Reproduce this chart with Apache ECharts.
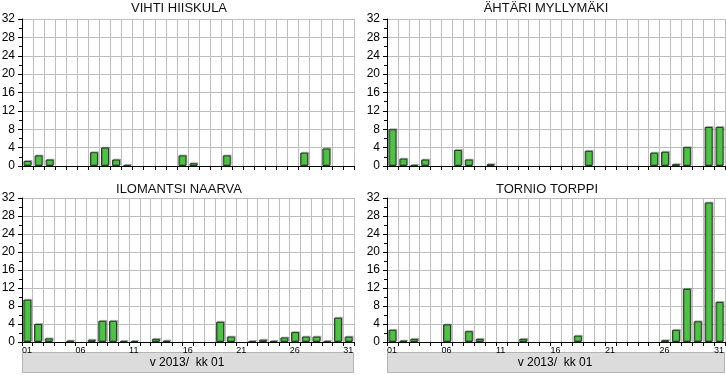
<!DOCTYPE html>
<html><head><meta charset="utf-8">
<script src="https://cdn.jsdelivr.net/npm/echarts@6/dist/echarts.min.js"></script>
<style>html,body{margin:0;padding:0;background:#fff}#c{width:726px;height:375px}</style>
</head><body><div id="c"></div><script>
// ---- data ----
const stationNames = ['VIHTI HIISKULA', 'ÄHTÄRI MYLLYMÄKI', 'ILOMANTSI NAARVA', 'TORNIO TORPPI'];
const vihtiValues = [1.1,2.3,1.4,0,0,0,3.0,4.0,1.4,0.2,0,0,0,0,2.3,0.6,0,0,2.3,0,0,0,0,0,0,2.9,0,3.8,0,0];
const ahtariValues = [8.0,1.6,0.2,1.4,0,0,3.5,1.4,0,0.4,0,0,0,0,0,0,0,0,3.3,0,0,0,0,0,2.9,3.1,0.4,4.1,0,8.5,8.5];
const ilomantsiValues = [9.4,4.0,0.8,0,0.3,0,0.5,4.7,4.7,0.2,0.2,0,0.7,0.3,0,0,0,0,4.5,1.2,0,0.2,0.5,0.2,1.0,2.2,1.2,1.2,0.2,5.4,1.2];
const tornioValues = [2.7,0.3,0.7,0,0,3.9,0,2.4,0.7,0,0,0,0.7,0,0,0,0,1.4,0,0,0,0,0,0,0,0.4,2.7,11.8,4.6,31.0,8.9];
const yMin = 0, yMax = 32, yInterval = 4;
const xLabelStep = 5;
const periodText = 'v 2013/  kk 01';

// ---- build ----
const pad = n => (n < 10 ? '0' : '') + n;
const seriesValues = [vihtiValues, ahtariValues, ilomantsiValues, tornioValues];
const grids = [
  {left: 22, top: 19, width: 332, height: 147},
  {left: 387, top: 19, width: 338, height: 147},
  {left: 22, top: 198, width: 332, height: 144},
  {left: 387, top: 198, width: 338, height: 144}
];
const FONT = '"Liberation Sans", Arial, sans-serif';
const gridColor = '#bdbdbd';

const xAxes = [], yAxes = [], series = [], graphics = [];
seriesValues.forEach((vals, i) => {
  const days = vals.map((_, k) => pad(k + 1));
  xAxes.push({
    type: 'category', gridIndex: i, data: days, boundaryGap: true,
    axisLine: {show: true, lineStyle: {color: '#000', width: 1}},
    axisTick: {show: true, interval: 0, length: 4, lineStyle: {color: '#000'}},
    axisLabel: {show: false},
    splitLine: {show: true, interval: 0, lineStyle: {color: gridColor, width: 1}}
  });
  yAxes.push({
    type: 'value', gridIndex: i, min: yMin, max: yMax, interval: yInterval,
    axisLine: {show: true, lineStyle: {color: '#000', width: 1}},
    axisTick: {show: true, length: 4, lineStyle: {color: '#000'}},
    minorTick: {show: true, splitNumber: 2, length: 3, lineStyle: {color: '#000'}},
    splitLine: {show: true, lineStyle: {color: gridColor, width: 1}},
    axisLabel: {fontSize: 12, color: '#000', margin: 7, fontFamily: FONT}
  });
  series.push({
    type: 'bar', xAxisIndex: i, yAxisIndex: i, barWidth: 8,
    data: vals.map(v => (v > 0 ? v : '-')),
    animation: false, silent: true,
    itemStyle: {color: '#52bf4a', borderColor: '#1f3d1f', borderWidth: 1,
      shadowColor: 'rgba(0,0,0,0.22)', shadowOffsetX: 1, shadowOffsetY: -1, shadowBlur: 0}
  });
});
// label axes for bottom panels (labels sit at day boundaries)
[2, 3].forEach(i => {
  const n = seriesValues[i].length;
  xAxes.push({
    type: 'value', gridIndex: i, min: 0, max: n, interval: xLabelStep, position: 'bottom',
    axisLine: {show: false}, axisTick: {show: false}, splitLine: {show: false},
    axisLabel: {show: true, fontSize: 9, color: '#000', margin: 4, align: 'left', fontFamily: FONT,
      showMaxLabel: false,
      formatter: v => (v < n ? pad(v + 1) : '')}
  });
});
// titles
const titlePos = [[179, 8], [546, 8], [179, 189], [547, 189]];
stationNames.forEach((name, i) => {
  graphics.push({type: 'text', x: titlePos[i][0], y: titlePos[i][1], silent: true,
    style: {text: name, align: 'center', verticalAlign: 'middle', fill: '#111',
      font: '13px ' + FONT}});
});
// period boxes below bottom panels
[2, 3].forEach(i => {
  const g = grids[i];
  graphics.push({type: 'rect', silent: true,
    shape: {x: g.left + 0.5, y: 352.5, width: g.width - 1, height: 20},
    style: {fill: '#dcdcdc', stroke: '#b4b4b4', lineWidth: 1}});
  graphics.push({type: 'text', silent: true, x: g.left + g.width / 2 - 1, y: 363,
    style: {text: periodText, align: 'center', verticalAlign: 'middle', fill: '#000',
      font: '12px ' + FONT}});
});

const chart = echarts.init(document.getElementById('c'), null, {renderer: 'canvas'});
chart.setOption({
  animation: false,
  backgroundColor: '#ffffff',
  textStyle: {fontFamily: FONT},
  grid: grids.map(g => Object.assign({containLabel: false, outerBoundsMode: 'none'}, g)),
  xAxis: xAxes,
  yAxis: yAxes,
  series: series,
  graphic: graphics
});
</script></body></html>
